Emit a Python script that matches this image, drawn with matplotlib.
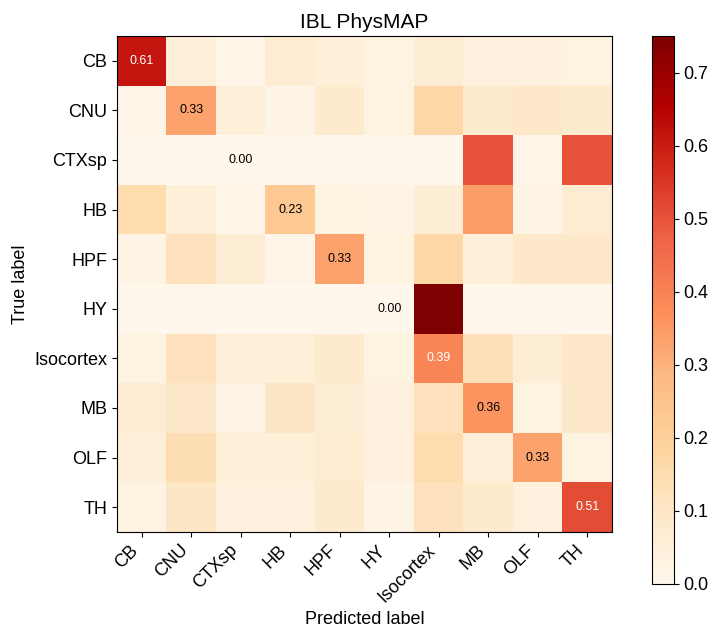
import numpy as np
import matplotlib
matplotlib.use('Agg')
import matplotlib.pyplot as plt

plt.rcParams['font.family'] = ['Liberation Sans', 'DejaVu Sans']

labels = ["CB", "CNU", "CTXsp", "HB", "HPF", "HY", "Isocortex", "MB", "OLF", "TH"]

# row-normalised confusion matrix (true label rows, predicted label columns)
cm_vals = np.array([
    [0.61, 0.05, 0.01, 0.07, 0.05, 0.03, 0.06, 0.04, 0.04, 0.03],
    [0.01, 0.33, 0.05, 0.02, 0.08, 0.03, 0.17, 0.08, 0.09, 0.08],
    [0.00, 0.00, 0.00, 0.00, 0.00, 0.00, 0.00, 0.50, 0.01, 0.50],
    [0.15, 0.05, 0.01, 0.23, 0.03, 0.02, 0.06, 0.34, 0.02, 0.07],
    [0.02, 0.12, 0.06, 0.01, 0.33, 0.03, 0.17, 0.05, 0.09, 0.09],
    [0.00, 0.00, 0.00, 0.00, 0.00, 0.00, 0.75, 0.00, 0.00, 0.00],
    [0.03, 0.12, 0.05, 0.05, 0.08, 0.03, 0.39, 0.13, 0.06, 0.09],
    [0.07, 0.09, 0.02, 0.10, 0.06, 0.04, 0.12, 0.36, 0.03, 0.09],
    [0.05, 0.14, 0.05, 0.05, 0.07, 0.04, 0.15, 0.05, 0.33, 0.03],
    [0.03, 0.10, 0.04, 0.04, 0.08, 0.02, 0.12, 0.08, 0.04, 0.51],
])

W, H = 716, 632
fig = plt.figure(figsize=(W / 100, H / 100), dpi=100)
ax = fig.add_axes([117 / W, (H - 532) / H, 495 / W, 496 / H])
cax = fig.add_axes([652 / W, (H - 584) / H, 22 / W, 548 / H])

im = ax.imshow(cm_vals, cmap='OrRd', vmin=0, vmax=cm_vals.max(), aspect='auto')
cb = fig.colorbar(im, cax=cax)
cb.ax.tick_params(labelsize=13)

ax.set_xticks(range(len(labels)))
ax.set_yticks(range(len(labels)))
ax.set_xticklabels(labels, rotation=45, ha='right', fontsize=13)
ax.set_yticklabels(labels, fontsize=13)
ax.set_xlabel("Predicted label", fontsize=13)
ax.set_ylabel("True label", fontsize=13)
ax.set_title("IBL PhysMAP", fontsize=15)

thresh = cm_vals.max() / 2
for i in range(len(labels)):
    v = cm_vals[i, i]
    ax.text(i, i, f"{v:.2f}", ha='center', va='center', fontsize=9,
            color='white' if v > thresh else 'black')

plt.savefig("out.png", dpi=100)
